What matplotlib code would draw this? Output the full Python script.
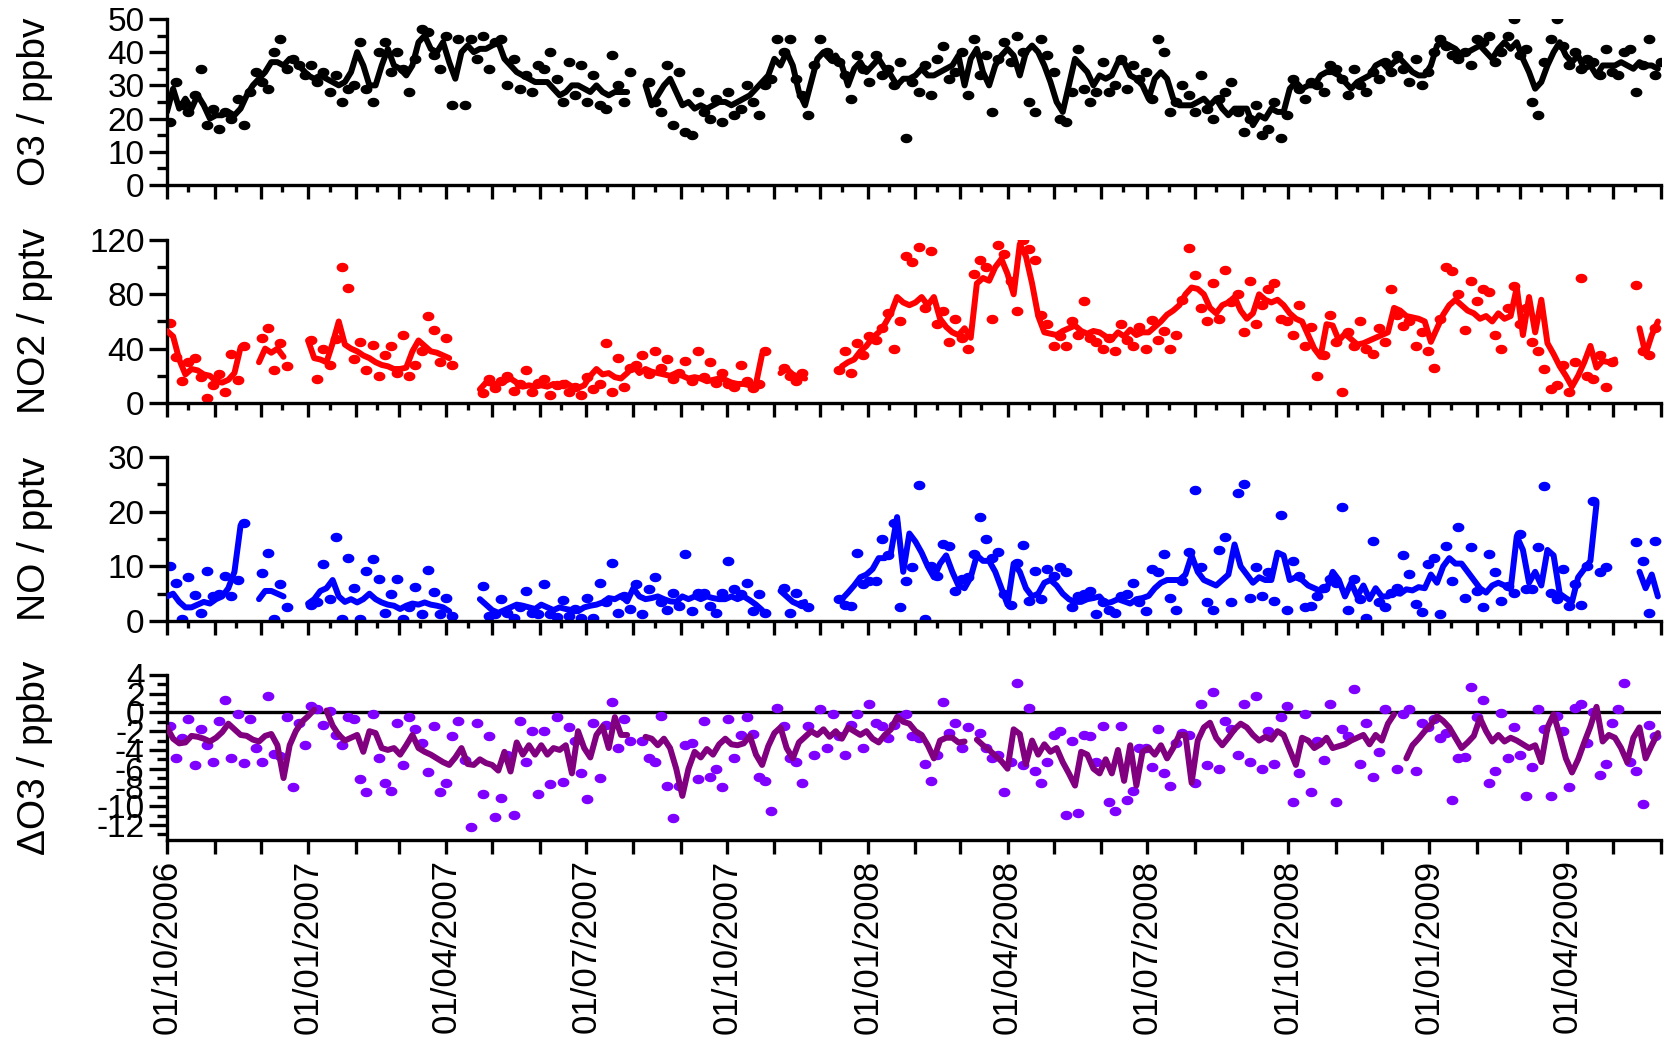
import numpy as np
import pandas as pd
import matplotlib
matplotlib.use("Agg")
import matplotlib.pyplot as plt
import matplotlib.dates as mdates
from matplotlib.path import Path
from matplotlib.ticker import MultipleLocator, FuncFormatter

nan = np.nan

# --- 4-day running values (line) and single samples in between (dots), from 01/10/2006 ---
# one row per month, Oct 2006 ... May 2009

o3_line = [
    22, 29, 23, 26, 23, 27, 24, 20,
    21, 21, 22, 21, 23, 27, 30, 32,
    34, 37, 37, 36, 38, 37, 35,
    33, 32, 33, 32, 31, 30, 31, 34,
    40, 36, 30, 30, 36, 41, 36,
    35, 33, 36, 43, 45, 41, 40, 43,
    37, 32, 40, 42, 40, 41, 41,
    42, 43, 38, 36, 34, 33, 32, 31,
    31, 31, 29, 27, 28, 30, 30, 29,
    28, 30, 28, 27, 28, 28, 28,
    nan, nan, 30, 24, 27, 30, 32, 28,
    24, 25, 23, 24, 23, 24, 25, 25,
    24, 25, 26, 27, 29, 31, 33,
    38, 36, 40, 36, 28, 24, 31, 38,
    40, 38, 39, 36, 30, 35, 37, 34,
    36, 38, 35, 33, 30, 32, 32,
    33, 35, 33, 33, 34, 35, 36, 39,
    30, 38, 41, 34, 30, 36, 39,
    41, 39, 33, 40, 42, 40, 36, 31,
    25, 22, 30, 38, 36, 34, 30, 33,
    32, 33, 37, 37, 33, 32, 30,
    26, 32, 34, 32, 26, 24, 24, 24,
    25, 26, 24, 26, 23, 21, 23, 23,
    23, 18, 21, 20, 23, 22, 22,
    29, 31, 29, 30, 30, 33, 34, 34,
    33, 31, 29, 31, 32, 33, 36,
    37, 35, 37, 38, 36, 34, 33, 33,
    36, 42, 43, 42, 41, 39, 40, 41,
    42, 40, 38, 41, 43, 41, 43,
    38, 34, 29, 31, 36, 40, 43, 39,
    37, 39, 35, 36, 33, 36, 36,
    36, 37, 36, 35, 37, 36, 36, 35,
]
o3_pts = [
    19, 31, 24, 22, 27, 35, 18, 23,
    17, 22, 20, 26, 18, 28, 34, 31,
    29, 40, 44, 35, 38, 36, 33,
    36, 31, 34, 28, 33, 25, 29, 30,
    43, 29, 25, 40, 43, 34, 40,
    35, 28, 38, 47, 46, 39, 35, 45,
    24, 44, 24, 44, 38, 45, 35,
    43, 44, 30, 38, 29, 33, 28, 36,
    35, 40, 32, 25, 37, 27, 36, 25,
    33, 24, 23, 39, 30, 25, 34,
    nan, nan, 31, 25, 22, 36, 18, 34,
    16, 15, 28, 22, 20, 26, 19, 28,
    21, 23, 30, 25, 21, 30, 32,
    44, 40, 44, 32, 27, 21, 36, 44,
    40, 38, 37, 33, 26, 39, 35, 31,
    39, 33, 35, 30, 37, 14, 31,
    28, 36, 27, 38, 42, 32, 34, 40,
    27, 44, 33, 39, 22, 38, 43,
    37, 45, 40, 25, 22, 44, 39, 34,
    20, 19, 28, 41, 29, 25, 28, 37,
    28, 30, 38, 29, 36, 32, 34,
    26, 44, 40, 22, 25, 30, 27, 22,
    33, 23, 20, 26, 28, 31, 22, 16,
    20, 24, 15, 17, 25, 14, 21,
    32, 29, 26, 31, 30, 28, 36, 35,
    32, 27, 35, 30, 28, 34, 32,
    37, 34, 39, 35, 31, 38, 30, 34,
    40, 44, 42, 39, 38, 40, 36, 44,
    43, 45, 37, 40, 45, 50, 39,
    41, 25, 21, 37, 44, 50, 42, 36,
    40, 35, 38, 37, 33, 41, 34,
    33, 40, 41, 28, 36, 44, 33, 37,
]

no2_line = [
    53, 49, 32, 21, 25, 24, 21, 20,
    16, 15, 17, 22, 41, nan, nan, 30,
    40, 37, 40, 34, nan, nan, nan,
    46, 33, 32, 30, 44, 60, 43, 40,
    38, 35, 33, 30, 28, 27, 25,
    25, 26, 38, 46, 42, 38, 37, 35,
    33, nan, nan, nan, nan, 10, 15,
    14, 14, 16, 18, 15, 12, 13, 12,
    13, 12, 14, 12, 15, 12, 11, 13,
    20, 25, 21, 22, 19, 18, 22,
    27, 22, 25, 23, 22, 21, 20, 22,
    20, 18, 19, 18, 16, 17, 18, 17,
    15, 14, 14, 13, 14, 36, nan,
    nan, 22, 25, 21, 19, 18, nan, nan,
    nan, nan, nan, 27, 30, 32, 38, 42,
    48, 52, 58, 66, 78, 74, 72,
    74, 78, 72, 78, 62, 56, 52, 50,
    55, 48, 88, 92, 90, 100, 106,
    95, 80, 117, 108, 88, 64, 52, 51,
    50, 53, 55, 57, 53, 51, 53, 52,
    49, 47, 52, 49, 54, 50, 52,
    52, 56, 60, 65, 68, 72, 80, 85,
    84, 80, 70, 66, 72, 74, 78, 68,
    62, 66, 80, 76, 74, 76, 72,
    66, 62, 60, 50, 40, 34, 58, 57,
    46, 51, 47, 43, 44, 46, 48,
    50, 52, 70, 68, 64, 63, 62, 60,
    45, 55, 65, 72, 76, 72, 68, 66,
    62, 64, 60, 66, 62, 64, 85,
    50, 78, 52, 76, 44, 36, 27, 20,
    12, 20, 30, 42, 26, 31, 30,
    32, nan, nan, nan, 55, 36, 50, 60,
]
no2_pts = [
    59, 34, 16, 30, 33, 19, 4, 13,
    21, 8, 36, 17, 42, nan, nan, 48,
    55, 24, 44, 27, nan, nan, nan,
    46, 18, 40, 28, 47, 100, 85, 32,
    45, 24, 43, 20, 35, 42, 22,
    50, 20, 28, 38, 64, 54, 30, 48,
    28, nan, nan, nan, nan, 7, 18,
    11, 16, 20, 9, 14, 24, 8, 15,
    18, 6, 13, 14, 8, 12, 6, 19,
    10, 14, 44, 8, 33, 12, 26,
    28, 35, 21, 38, 26, 32, 18, 22,
    31, 16, 38, 19, 30, 15, 22, 14,
    12, 28, 16, 11, 14, 38, nan,
    nan, 26, 20, 16, 22, nan, nan, nan,
    nan, nan, 24, 38, 22, 44, 35, 49,
    46, 55, 66, 40, 60, 108, 104,
    115, 70, 112, 58, 68, 45, 62, 48,
    40, 95, 105, 100, 62, 116, 110,
    90, 68, 120, 113, 105, 65, 58, 42,
    49, 42, 60, 50, 75, 48, 45, 40,
    48, 38, 58, 46, 42, 56, 40,
    61, 46, 53, 40, 50, 76, 114, 94,
    70, 60, 88, 62, 98, 74, 80, 52,
    90, 58, 72, 84, 88, 62, 60,
    50, 72, 42, 56, 20, 35, 65, 45,
    8, 52, 42, 60, 40, 36, 55,
    45, 84, 65, 57, 60, 42, 52, 38,
    26, 62, 100, 97, 80, 54, 90, 75,
    84, 82, 50, 40, 70, 86, 58,
    70, 45, 38, 25, 10, 13, 28, 8,
    30, 92, 20, 18, 35, 12, 30,
    nan, nan, nan, 87, 38, 35, 55, nan,
]

no_line = [
    4.5, 5, 3.5, 2.5, 2.5, 3, 3.5, 3.2,
    4, 4.5, 6, 9, 17.5, nan, nan, 4,
    5.5, 5.5, 5, 4.5, nan, nan, nan,
    3.2, 4, 5.5, 6, 7.5, 4.5, 3.5, 4,
    3.4, 4, 5, 4, 3.4, 3, 2.8,
    2.2, 2.8, 3.2, 3, 3.4, 3, 2.8, 2.5,
    1.8, nan, nan, nan, nan, 4, 3,
    2, 1.5, 2, 2.5, 3, 2.8, 2.5, 2.2,
    3, 2.5, 2, 2.5, 2.2, 2, 1.8, 2.5,
    2.8, 3, 3.4, 4.2, 4, 4.6, 3.6,
    6, 4.5, 4, 4.2, 4.5, 4, 3.6, 3.5,
    4.5, 4, 4.5, 4, 4.5, 4.2, 4, 4,
    4.5, 4, 4.5, 3.8, 3, 2, nan,
    nan, 5.5, 4.5, 3.5, 3, 3.5, nan, nan,
    nan, nan, nan, 4, 5.2, 6.5, 8, 8.5,
    9.5, 11.5, 11.5, 12.5, 19, 9, 16,
    14.5, 12.5, 10, 8, 10.5, 12, 9, 6.5,
    6, 8, 12, 11, 11, 9, 6,
    3, 10.5, 9, 6, 4.5, 5, 7, 7.5,
    6.5, 5, 4, 3.5, 3.5, 4, 4.2, 4.5,
    3.2, 3.5, 4, 3.6, 3.2, 4, 4.2,
    4.6, 6, 7, 7.5, 7.5, 7.5, 8.5, 12,
    9, 7.5, 7, 6.5, 7.5, 8.5, 14, 10,
    8.5, 7, 8, 7.5, 7.5, 12.5, 12,
    7.5, 8, 7.5, 6.5, 6, 5.5, 5.8, 9,
    7.5, 4.5, 7, 4.5, 6.5, 4, 6,
    4.5, 4.5, 5.2, 5, 5.8, 5.6, 6.2, 6,
    8.5, 7, 10, 11.5, 10.5, 10.5, 9, 7.5,
    6, 5.2, 6.5, 7, 6.5, 5.8, 15.5,
    13, 7, 9, 6.5, 13, 12, 5, 4.2,
    3.5, 8, 9.5, 11, 21.5, nan, nan,
    nan, nan, nan, nan, 9, 6, 8.5, 4.5,
]
no_pts = [
    10, 7, 0.3, 8, 4.8, 1.5, 9.2, 4.5,
    5, 8.2, 4.5, 7.5, 18, nan, nan, 8.8,
    12.5, 0.3, 6.8, 2.5, nan, nan, nan,
    3, 3.5, 10.4, 4, 15.3, 0.3, 11.6, 6,
    0.3, 9.2, 11.3, 7.6, 1.5, 5, 7.6,
    0.3, 2.5, 6.3, 1.2, 9.3, 5.3, 1.2, 4.2,
    1, nan, nan, nan, nan, 6.4, 0.9,
    1.2, 4, 1.5, 0.6, 2.5, 5.5, 1.5, 1.2,
    6.7, 1.2, 0.8, 3.8, 1, 2.2, 0.6, 4.2,
    0.5, 7, 3.5, 10.7, 1.5, 4.6, 2.2,
    6.7, 1.2, 5.8, 8, 3.5, 2.1, 5.2, 2.8,
    12.2, 1.8, 5.2, 5.2, 2.8, 1.5, 5.2, 11,
    5.8, 4.9, 6.9, 1.8, 4.9, 1.5, nan,
    nan, 6.1, 1.4, 5.2, 3.1, 2.5, nan, nan,
    nan, nan, 4, 3, 2.8, 12.4, 6.7, 7.3,
    7.3, 15, 12, 17.9, 2.5, 7.3, 9.8,
    24.8, 0.3, 10, 8.3, 14.1, 13.8, 5.5, 7.7,
    8, 12.2, 19, 15, 11.5, 12.7, 4.9,
    3, 10.7, 13.9, 3.7, 9.2, 4, 9.5, 8.3,
    9.8, 8.9, 2.5, 4.6, 4.9, 5.5, 1.2, 3.5,
    2.1, 1.5, 4.6, 4.9, 7, 3.5, 1.8,
    9.5, 8.9, 12.2, 4.3, 2.1, 7.3, 12.6, 23.9,
    9.8, 3.4, 2.1, 12.9, 15.3, 3.4, 23.4, 25.1,
    4.3, 9.8, 4.6, 8.9, 3.7, 19.4, 2.1,
    11, 8.3, 2.5, 2.8, 4.6, 6.1, 7.7, 7,
    20.9, 2.1, 7.7, 4, 0.6, 14.7, 3.4,
    2.5, 5.2, 6.1, 12, 8.6, 3.1, 1.6, 10.4,
    11.6, 1.2, 13.8, 7.3, 17.1, 4.3, 13.5, 5.5,
    2.5, 12.2, 8.9, 3.7, 6.4, 5.2, 15.9,
    5.8, 5.8, 13.5, 24.7, 5.2, 4, 9.5, 2.8,
    6.7, 3, 10.1, 22, 8.9, 9.8, nan,
    nan, nan, nan, 14.4, 11, 1.5, 14.7, nan,
]

do3_line = [
    -1.6, -2.8, -3.3, -3.2, -2.5, -2.6, -2.8, -3.1,
    -2.7, -2.1, -1.2, -1.8, -2.4, -2.5, -2.9, -3.1,
    -2.5, -2.3, -3.5, -7, -3.5, -2, -1,
    -0.4, 0.3, nan, 0.2, -1.4, -2.4, -3, -2.7,
    -2.4, -4.2, -2, -2.2, -3.8, -4, -3.8,
    -4.5, -3.5, -2.4, -3.8, -4.2, -4.5, -4.9, -5.3,
    -5.6, -4.8, -3.8, -5.5, -5.6, -5, -5.4,
    -5.6, -6.2, -4.2, -6.3, -3.2, -4.5, -3.5, -4.5,
    -3.5, -4.5, -3.8, -4, -3.5, -6.5, -2, -3.8,
    -4.8, -2.4, -1.5, -3.8, -0.5, -2.4, -2.4,
    nan, nan, -2.6, -2.8, -3.5, -2.8, -3.8, -6,
    -8.9, -6, -4.2, -4.8, -3.9, -4.5, -3.4, -2.8,
    -3.4, -3.5, -3.3, -2.5, -4.5, -5.6, -3.6,
    -2.2, -1.6, -3.8, -4.9, -3.2, -2.6, -2, -2.4,
    -1.8, -2.6, -2, -2.8, -1.6, -2, -2.4, -2,
    -2.8, -3.2, -2.4, -1.8, -0.5, -1, -1.2,
    -2, -2.4, -3.5, -4.9, -3, -2.7, -2.7, -3.2,
    -3.1, nan, -2.9, -3.5, -4, -4.6, -5.2,
    -6, -1.8, -2.3, -5.5, -3, -4.5, -3.4, -4.2,
    -3.8, -5.3, -6.5, -7.8, -4.2, -4.5, -6, -6.5,
    -5, -6.5, -4, -7.3, -3.5, -7.8, -4.2,
    -3.8, -4.5, -3.5, -4.9, -3.8, -2.4, -2.4, -7.5,
    -3, -1.6, -1.1, -2.7, -3.5, -2.7, -1.8, -1.2,
    -1.6, -2.4, -3, -2.6, -2.9, -2, -2.4,
    -4, -5.6, -2.7, -3, -3.8, -3.4, -2.7, -3.8,
    -3.6, -3.4, -3, -2.7, -2.4, -3.4, -2.4,
    -3, -1.2, -0.2, nan, -4.9, -3.5, -2.8, -2,
    -1.3, -0.4, -0.9, -1.6, -2.7, -3.8, -3.2, -2.5,
    -0.6, -2, -3.1, -2.4, -3.1, -2.7, -3,
    -3.4, -3.8, -3.5, -5.3, -1.6, -0.2, -2.4, -4.9,
    -6.4, -5, -3.2, -1.5, 0.6, -3.1, -2.4,
    -2.7, -3.8, -5.3, -2.7, -1.6, -4.9, -3.5, -2.2,
]
do3_pts = [
    -1.5, -4.9, -2.7, -0.7, -5.6, -1.8, -3.5, -5.3,
    -0.9, 1.3, -4.9, -0.2, -5.4, -0.7, -3.8, -5.3,
    1.8, -4.4, -4.6, -0.5, -8, -1.1, -3.5,
    0.7, 0.4, -1.3, 0.2, -2.4, -3.5, -0.5, -0.7,
    -7.1, -8.5, -0.2, -4.9, -7.5, -8.4, -1.1,
    -5.6, -0.5, -1.8, -3.3, -6.4, -1.5, -8.5, -7.5,
    -2.5, -0.9, -5.1, -12.2, -1.1, -8.7, -2.5,
    -11.1, -9.1, -4.5, -10.9, -0.9, -5.3, -2, -8.7,
    -2, -7.6, -0.5, -7.4, -1.6, -3, -6.5, -9.2,
    -1.1, -7, -1.3, 1.1, -3.8, -0.7, -3.1,
    nan, -3, -4.9, -5.3, -0.4, -7.8, -11.3, -7.8,
    -3.5, -3.3, -7.1, -0.9, -6.9, -6, -8, -0.7,
    -4.9, -2.4, -0.5, -2.3, -6.9, -7.3, -10.5,
    0.5, -1.5, -4.9, -5.3, -7.5, -1.5, -4.5, 0.4,
    -3.8, -0.2, -2.5, -4.5, -1.3, -0.2, -3.8, 0.9,
    -1.1, -1.5, -2.7, -1.3, -0.5, -0.2, -2.5,
    -2.7, -5.5, -7.3, -4.5, 1.1, -2.2, -1.1, -3.8,
    -1.6, nan, -2.2, -3.8, -4.9, -4.5, -8.5,
    -5.3, 3.1, -5.6, 0.5, -6.2, -7.5, -5.3, -2.4,
    -2, -10.9, -3.1, -10.7, -2.4, -2.5, -5.3, -1.5,
    -9.5, -10.5, -1.5, -9.3, -8.4, -3.8, -3.8,
    -5.8, -1.8, -6.5, -7.8, -3.3, -2.2, -2.4, -7.5,
    0.9, -5.6, 2.2, -6, -0.9, -1.8, -4.5, 0.9,
    -5.3, 1.8, -6, -2, -5.5, -0.5, 0.7,
    -9.5, -6.5, -0.2, -8.5, -3.1, -5.1, 0.9, -9.6,
    -1.8, -2.5, 2.5, -5.5, -1.1, -6.9, -4.2,
    0.4, nan, -6, -0.2, 0.4, -6.2, -1.1, -1.6,
    -0.7, -2.7, -2.2, -9.3, -4.9, -4.7, 2.7, -0.5,
    1.3, -7.5, -6.2, -0.1, -4.9, -1.6, -4.5,
    -8.9, -5.8, 0.4, -1.8, -8.9, -0.4, -2, -8,
    0.5, 0.9, -3.3, 0, -6.7, -5.5, -1.1,
    0.4, 3.1, -5.3, -6.2, -9.8, -1.3, -2.5, nan,
]

start = pd.Timestamp("2006-10-01")
end = pd.Timestamp("2009-06-01")
step_days = 4


def sample_times(values, offset):
    days = np.arange(len(values)) * step_days + offset
    return start + pd.to_timedelta(days, unit="D")


plt.rcParams["font.family"] = ["Liberation Sans", "DejaVu Sans"]
plt.rcParams["axes.unicode_minus"] = False

# slightly flattened dot marker
th = np.linspace(0, 2 * np.pi, 40)
dot = Path(np.column_stack([np.cos(th), 0.8 * np.sin(th)]))

panels = [
    # label, line, dots, line colour, dot colour, ylim, major, minor
    ("O3 / ppbv", o3_line, o3_pts, "black", "black", (0, 50), 10, 5),
    ("NO2 / pptv", no2_line, no2_pts, "#ff0000", "#ff0000", (0, 120), 40, 20),
    ("NO / pptv", no_line, no_pts, "#0000ff", "#0000ff", (0, 30), 10, 5),
    ("\u0394O3 / ppbv", do3_line, do3_pts, "#800080", "#8000ff", (-13.6, 4), 2, 1),
]
boxes = [
    (0.0998, 0.8235, 0.893, 0.1584),
    (0.0998, 0.6155, 0.893, 0.1555),
    (0.0998, 0.4074, 0.893, 0.1566),
    (0.0998, 0.1985, 0.893, 0.1575),
]

fig = plt.figure(figsize=(16.73, 10.48), dpi=100)

for k, (label, line, pts, lc, pc, ylim, major, minor) in enumerate(panels):
    ax = fig.add_axes(boxes[k])
    ax.plot(sample_times(pts, 2), pts, linestyle="none", marker=dot,
            markersize=8.5, color=pc, markeredgewidth=0, zorder=2)
    ax.plot(sample_times(line, 0), line, color=lc, linewidth=4.3,
            solid_joinstyle="round", solid_capstyle="round", zorder=3)

    ax.set_xlim(start, end)
    ax.set_ylim(*ylim)
    ax.yaxis.set_major_locator(MultipleLocator(major))
    ax.yaxis.set_minor_locator(MultipleLocator(minor))
    ax.xaxis.set_major_locator(mdates.MonthLocator())

    for side in ("top", "right"):
        ax.spines[side].set_visible(False)
    for side in ("left", "bottom"):
        ax.spines[side].set_linewidth(2.4)

    ax.tick_params(axis="y", which="major", direction="out", length=13,
                   width=2.4, labelsize=24, pad=3)
    ax.tick_params(axis="y", which="minor", direction="out", length=7, width=2.4)
    ax.tick_params(axis="x", which="major", direction="out", length=10, width=2.4)

    ax.set_ylabel(label, fontsize=28, va="center")
    ax.yaxis.set_label_coords(-0.088, 0.5)

    if k < 3:
        ax.xaxis.set_minor_locator(mdates.MonthLocator(bymonthday=15))
        ax.tick_params(axis="x", which="minor", direction="out", length=5, width=2.4)
        ax.tick_params(axis="x", labelbottom=False)
    else:
        ax.axhline(0, color="black", linewidth=2.4, zorder=1)
        quarter = FuncFormatter(
            lambda x, pos: mdates.num2date(x).strftime("%d/%m/%Y")
            if mdates.num2date(x).month in (1, 4, 7, 10) else "")
        ax.xaxis.set_major_formatter(quarter)
        ax.tick_params(axis="x", labelrotation=90, labelsize=25, pad=4)

fig.savefig("out.png", dpi=100)
